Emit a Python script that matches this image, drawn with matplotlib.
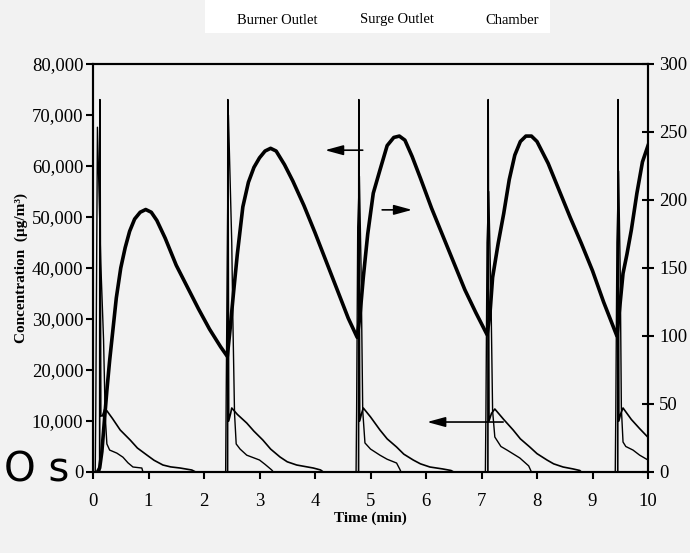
import matplotlib
matplotlib.use("Agg")
import matplotlib.pyplot as plt
from matplotlib.patches import Rectangle
from matplotlib.ticker import FuncFormatter

# burner outlet, left axis (ug/m3)
burner_t = [0.0, 0.12, 0.125, 0.14, 0.17, 0.21, 0.25, 0.35, 0.49, 0.67, 0.8, 0.97, 1.1, 1.26, 1.4, 1.57, 1.78, 1.85,
            2.425, 2.43, 2.445, 2.48, 2.5, 2.6, 2.77, 2.9, 3.06, 3.2, 3.37, 3.5, 3.67, 3.97, 4.1, 4.15,
            4.785, 4.79, 4.805, 4.84, 4.87, 5.0, 5.17, 5.3, 5.47, 5.6, 5.77, 5.9, 6.07, 6.3, 6.45, 6.5,
            7.115, 7.12, 7.135, 7.18, 7.24, 7.4, 7.57, 7.7, 7.87, 8.0, 8.18, 8.3, 8.47, 8.65, 8.77, 8.8,
            9.455, 9.46, 9.475, 9.51, 9.55, 9.7, 9.85, 10.0]
burner_v = [0, 0, 73000, 11000, 11000, 12300, 12000, 10500, 8240, 6270, 4700, 3330, 2300, 1370, 1000, 780, 390, 0,
            0, 73000, 10000, 11500, 12550, 11300, 9600, 8000, 6270, 4500, 2940, 2000, 1370, 780, 400, 0,
            0, 73000, 10000, 11500, 12550, 10800, 8240, 6500, 4900, 3500, 2350, 1600, 980, 600, 300, 0,
            0, 73000, 10000, 11500, 12350, 10300, 8240, 6500, 4900, 3600, 2350, 1600, 980, 600, 300, 0,
            0, 73000, 10000, 11500, 12550, 10300, 8500, 6800]

# surge outlet, left axis (ug/m3)
surge_t = [0.0, 0.04, 0.05, 0.08, 0.14, 0.19, 0.22, 0.25, 0.3, 0.43, 0.54, 0.63, 0.72, 0.88, 0.9,
           2.39, 2.4, 2.44, 2.5, 2.52, 2.55, 2.58, 2.65, 2.77, 3.0, 3.1, 3.22, 3.25,
           4.74, 4.75, 4.77, 4.8, 4.83, 4.86, 4.9, 5.0, 5.17, 5.3, 5.47, 5.53, 5.55,
           7.07, 7.08, 7.1, 7.13, 7.17, 7.2, 7.24, 7.35, 7.46, 7.69, 7.85, 7.9,
           9.41, 9.42, 9.44, 9.47, 9.5, 9.52, 9.55, 9.6, 9.73, 9.85, 10.0]
surge_v = [0, 0, 12000, 67600, 41000, 26000, 11000, 5500, 4300, 3700, 2900, 1800, 980, 780, 0,
           0, 15000, 70000, 45000, 30000, 11500, 5500, 4500, 3300, 2350, 1500, 400, 0,
           0, 12000, 48000, 58000, 40000, 12000, 5700, 4500, 3300, 2500, 1760, 500, 0,
           0, 12000, 45000, 55000, 35000, 12000, 6860, 5000, 4300, 2750, 1200, 0,
           0, 12000, 45000, 59000, 39000, 12500, 5880, 5000, 4300, 3300, 2350]

# chamber, right axis
chamber_t = [0.08, 0.12, 0.16, 0.2, 0.25, 0.3, 0.36, 0.42, 0.5, 0.58, 0.66, 0.75, 0.85, 0.95, 1.05, 1.15,
             1.3, 1.5, 1.7, 1.9, 2.1, 2.3, 2.42,
             2.47, 2.53, 2.6, 2.7, 2.8, 2.9, 3.0, 3.1, 3.2, 3.3, 3.45, 3.6, 3.8, 4.0, 4.2, 4.4, 4.6, 4.76,
             4.81, 4.87, 4.95, 5.05, 5.17, 5.3, 5.42, 5.52, 5.62, 5.75, 5.9, 6.1, 6.3, 6.5, 6.7, 6.9, 7.1,
             7.15, 7.2, 7.3, 7.4, 7.5, 7.6, 7.7, 7.8, 7.9, 8.0, 8.2, 8.4, 8.6, 8.8, 9.0, 9.2, 9.44,
             9.5, 9.55, 9.62, 9.7, 9.8, 9.9, 10.0]
chamber_v = [0, 3, 15, 35, 60, 82, 105, 128, 150, 165, 177, 186, 191, 193, 191, 185,
             172, 152, 136, 120, 105, 92, 85,
             105, 131, 160, 195, 213, 224, 231, 236, 238, 236, 226, 214, 196, 176, 155, 134, 113, 99,
             115, 143, 175, 205, 222, 240, 246, 247, 244, 232, 216, 194, 174, 154, 134, 117, 101,
             115, 143, 168, 190, 215, 233, 243, 247, 247, 243, 227, 207, 187, 168, 148, 125, 100,
             125, 146, 160, 178, 205, 228, 240]

legend_names = ["Burner Outlet", "Surge Outlet", "Chamber"]

bg = "#f2f2f2"
serif = "Liberation Serif"

fig = plt.figure(figsize=(6.9, 5.53), dpi=100, facecolor=bg)
ax = fig.add_axes([93/690, 1-472/553, (648-93)/690, (472-64)/553])
ax.set_facecolor(bg)
ax2 = ax.twinx()

ax.plot(burner_t, burner_v, color="black", lw=1.2)
ax.plot(surge_t, surge_v, color="black", lw=1.0)
ax2.plot(chamber_t, chamber_v, color="black", lw=2.6, solid_joinstyle="round")

ax.set_xlim(0, 10)
ax.set_ylim(0, 80000)
ax2.set_ylim(0, 300)
ax.set_xticks(range(0, 11))
ax.set_yticks(range(0, 80001, 10000))
ax2.set_yticks(range(0, 301, 50))
ax.yaxis.set_major_formatter(FuncFormatter(lambda v, p: f"{int(v):,}"))

for a in (ax, ax2):
    for s in a.spines.values():
        s.set_linewidth(1.5)
ax.tick_params(axis="y", direction="out", length=5, width=1.5, labelsize=13.5, pad=2)
ax.tick_params(axis="x", direction="out", length=5, width=1.5, labelsize=13.5, pad=10)
ax2.tick_params(axis="y", direction="inout", length=8, width=1.5, labelsize=13.5, pad=4)
for lab in ax.get_xticklabels() + ax.get_yticklabels() + ax2.get_yticklabels():
    lab.set_fontfamily(serif)

ax.set_xlabel("Time (min)", fontfamily=serif, fontweight="bold", fontsize=11, labelpad=1)
ax.set_ylabel("Concentration  (µg/m³)", fontfamily=serif, fontweight="bold", fontsize=11, labelpad=3)

# arrows telling which axis each curve belongs to
arrow = dict(arrowstyle="-|>,head_length=1.1,head_width=0.3", color="black", lw=1.2, shrinkA=0, shrinkB=0)
ax.annotate("", xy=(4.18, 63100), xytext=(4.86, 63100), arrowprops=arrow)
ax.annotate("", xy=(5.75, 51400), xytext=(5.21, 51400), arrowprops=arrow)
ax.annotate("", xy=(6.02, 9800), xytext=(7.39, 9800), arrowprops=arrow)

# legend strip at top (text only)
fig.patches.append(Rectangle((205/690, 1-33/553), (550-205)/690, 33/553,
                             transform=fig.transFigure, facecolor="white", edgecolor="none"))
for name, x in zip(legend_names, [277, 397, 512]):
    fig.text(x/690, 1-20/553, name, ha="center", va="center", fontfamily=serif, fontsize=10.5)

fig.text(4/690, 1-481/553, "O s", ha="left", va="baseline", fontfamily="DejaVu Sans", fontsize=29)

fig.savefig("out.png", dpi=100, facecolor=bg)
